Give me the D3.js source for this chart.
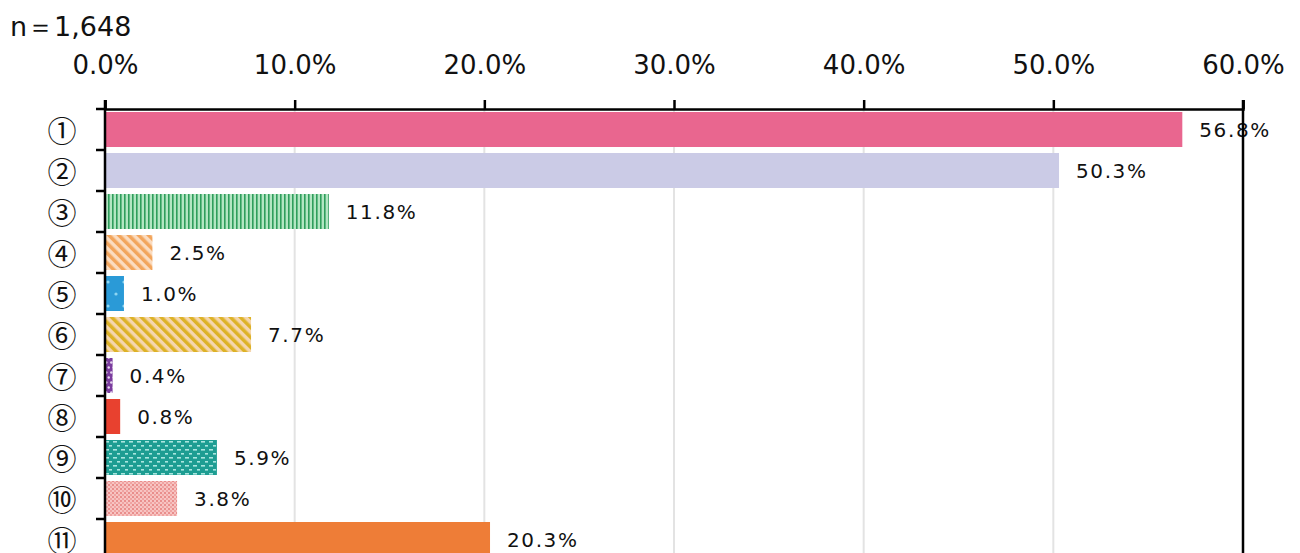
<!DOCTYPE html>
<html>
<head>
<meta charset="utf-8">
<script src="https://cdn.jsdelivr.net/npm/d3@7"></script>
<style>
  body { margin: 0; background: #fff; }
  svg { display: block; }
  .tickText { font-family: "DejaVu Sans", Verdana, sans-serif; font-size: 26px; fill: #111; }
  .catText { font-family: "Noto Sans CJK JP", "DejaVu Sans", sans-serif; font-size: 29px; fill: #111; }
  .valText { font-family: "DejaVu Sans", Verdana, sans-serif; font-size: 20px; letter-spacing: 1.6px; fill: #111; }
  .nText { font-family: "DejaVu Sans", sans-serif; font-size: 27px; fill: #111; }
</style>
</head>
<body>
<div id="chart"></div>
<script>
(function(){

   var SVG_WIDTH = 1300;
   var SVG_HEIGHT = 553;

   // chart data
   var categories = ['①', '②', '③', '④', '⑤', '⑥', '⑦', '⑧', '⑨', '⑩', '⑪'];
   var values = [56.8, 50.3, 11.8, 2.5, 1.0, 7.7, 0.4, 0.8, 5.9, 3.8, 20.3];
   var tickValues = [0, 10, 20, 30, 40, 50, 60];
   var sampleSize = 'n＝1,648';

   // fill per bar (solid colour or pattern id)
   var fills = ['#E9668F', '#CBCBE6', 'url(#pGreen)', 'url(#pOrange)', 'url(#pBlue)',
      'url(#pGold)', 'url(#pPurple)', '#E8412F', 'url(#pTeal)', 'url(#pPink)', '#EE7D37'];

   var left = 105, right = 1243, top = 109;
   var BAND = 41; // height of one category row
   var BAR_PAD = 3; // gap between band edge and bar

   var svg = d3.select('#chart')
      .append('svg')
      .attr('width', SVG_WIDTH)
      .attr('height', SVG_HEIGHT);

   var defs = svg.append('defs');

   // vertical green stripes
   var pg = defs.append('pattern').attr('id', 'pGreen')
      .attr('patternUnits', 'userSpaceOnUse').attr('width', 4).attr('height', 4);
   pg.append('rect').attr('width', 4).attr('height', 4).attr('fill', '#B3E6C3');
   pg.append('rect').attr('width', 1.6).attr('height', 4).attr('fill', '#2F9E5C');

   // diagonal stripes, orange and gold
   function diagonal(id, base, stripe){
      var p = defs.append('pattern').attr('id', id)
         .attr('patternUnits', 'userSpaceOnUse').attr('width', 7).attr('height', 7)
         .attr('patternTransform', 'rotate(-45)');
      p.append('rect').attr('width', 7).attr('height', 7).attr('fill', base);
      p.append('rect').attr('width', 3.5).attr('height', 7).attr('fill', stripe);
   }
   diagonal('pOrange', '#FBDCC0', '#F2A55C');
   diagonal('pGold', '#F5D6AE', '#DDB226');

   // dotted fills
   function dots(id, base, dot, w, h, r){
      var p = defs.append('pattern').attr('id', id)
         .attr('patternUnits', 'userSpaceOnUse').attr('width', w).attr('height', h);
      p.append('rect').attr('width', w).attr('height', h).attr('fill', base);
      p.append('circle').attr('cx', w / 4).attr('cy', h / 4).attr('r', r).attr('fill', dot);
      p.append('circle').attr('cx', w * 3 / 4).attr('cy', h * 3 / 4).attr('r', r).attr('fill', dot);
   }
   dots('pBlue', '#2A9AD7', '#8ED6F2', 16, 24, 1.6);
   dots('pPurple', '#7A3C9E', '#E6D4F0', 5, 10, 1.2);

   // teal with light dashes
   var pt = defs.append('pattern').attr('id', 'pTeal')
      .attr('patternUnits', 'userSpaceOnUse').attr('width', 8).attr('height', 8);
   pt.append('rect').attr('width', 8).attr('height', 8).attr('fill', '#1D9D92');
   pt.append('rect').attr('x', 1).attr('y', 1).attr('width', 4).attr('height', 1.6).attr('fill', '#A9E6DF');
   pt.append('rect').attr('x', 5).attr('y', 5).attr('width', 4).attr('height', 1.6).attr('fill', '#A9E6DF');

   // pink check
   var pp = defs.append('pattern').attr('id', 'pPink')
      .attr('patternUnits', 'userSpaceOnUse').attr('width', 4).attr('height', 4);
   pp.append('rect').attr('width', 4).attr('height', 4).attr('fill', '#F7C4C2');
   pp.append('rect').attr('width', 2).attr('height', 2).attr('fill', '#E98E8C');
   pp.append('rect').attr('x', 2).attr('y', 2).attr('width', 2).attr('height', 2).attr('fill', '#EFA3A1');

   // scales
   var x = d3.scaleLinear().domain([0, 60]).range([left, right]);
   var y = d3.scaleBand().domain(categories)
      .range([top, top + BAND * categories.length]);

   // grid lines
   svg.append('g').selectAll('line')
      .data(tickValues.slice(1, -1))
      .enter()
      .append('line')
         .attr('x1', function(d){ return x(d); })
         .attr('x2', function(d){ return x(d); })
         .attr('y1', top)
         .attr('y2', SVG_HEIGHT)
         .attr('stroke', '#E3E3E3')
         .attr('stroke-width', 2);

   // bars
   svg.append('g').selectAll('rect')
      .data(values)
      .enter()
      .append('rect')
         .attr('x', x(0))
         .attr('y', function(d, i){ return y(categories[i]) + BAR_PAD; })
         .attr('width', function(d){ return x(d) - x(0); })
         .attr('height', y.bandwidth() - BAR_PAD * 2)
         .attr('fill', function(d, i){ return fills[i]; });

   // value labels
   svg.append('g').selectAll('text')
      .data(values)
      .enter()
      .append('text')
         .attr('class', 'valText')
         .attr('x', function(d){ return x(d) + 17; })
         .attr('y', function(d, i){ return y(categories[i]) + y.bandwidth() / 2 + 7; })
         .text(function(d){ return d.toFixed(1) + '%'; });

   // top axis
   var xAxis = d3.axisTop(x)
      .tickValues(tickValues)
      .tickSize(9)
      .tickPadding(26)
      .tickFormat(function(d){ return d.toFixed(1) + '%'; });

   var gx = svg.append('g')
      .attr('transform', 'translate(0,' + top + ')')
      .call(xAxis);
   gx.select('.domain').attr('stroke', '#000').attr('stroke-width', 2.5);
   gx.selectAll('.tick line').attr('stroke', '#000').attr('stroke-width', 2.5);
   gx.selectAll('.tick text').attr('class', 'tickText').attr('font-family', null).attr('font-size', null);

   // left axis with ticks on band edges
   var yEdges = categories.map(function(c){ return y(c); });
   var gy = svg.append('g');
   gy.append('line')
      .attr('x1', left).attr('x2', left)
      .attr('y1', top - 9).attr('y2', SVG_HEIGHT)
      .attr('stroke', '#000').attr('stroke-width', 2.5);
   gy.selectAll('line.edge')
      .data(yEdges)
      .enter()
      .append('line')
         .attr('class', 'edge')
         .attr('x1', left - 9).attr('x2', left)
         .attr('y1', function(d){ return d; })
         .attr('y2', function(d){ return d; })
         .attr('stroke', '#000').attr('stroke-width', 2.5);

   // right border line
   svg.append('line')
      .attr('x1', right).attr('x2', right)
      .attr('y1', top - 9).attr('y2', SVG_HEIGHT)
      .attr('stroke', '#000').attr('stroke-width', 2.5);

   // category labels
   svg.append('g').selectAll('text')
      .data(categories)
      .enter()
      .append('text')
         .attr('class', 'catText')
         .attr('x', 62)
         .attr('y', function(d){ return y(d) + y.bandwidth() / 2 + 12; })
         .attr('text-anchor', 'middle')
         .text(function(d){ return d; });

   // sample size
   svg.append('text')
      .attr('class', 'nText')
      .attr('x', 10)
      .attr('y', 36)
      .text(sampleSize);

})();
</script>
</body>
</html>
